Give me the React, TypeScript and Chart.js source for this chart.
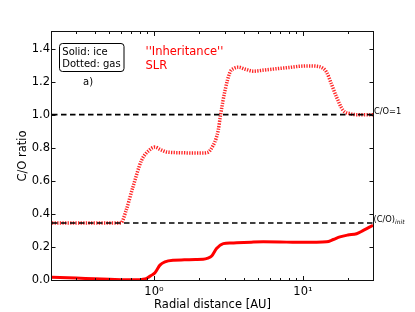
import React, { useEffect, useRef } from "react";
import { Chart, registerables } from "chart.js";

Chart.register(...registerables);

// ---- data ----
const gasX = [0.207, 0.3, 0.4, 0.5, 0.6, 0.65, 0.723, 0.826, 0.93, 1.016, 1.1, 1.217, 1.5, 1.8, 2.1, 2.3, 2.5, 2.61, 2.7, 2.8, 3.0, 3.24, 3.45, 3.68, 4.1, 4.64, 5.5, 6.66, 8, 9.55, 11, 12.36, 13.5, 14.4, 15.5, 16.8, 18.6, 20.7, 23, 26, 29.5];
const gasY = [0.345, 0.345, 0.345, 0.345, 0.345, 0.42, 0.563, 0.724, 0.785, 0.804, 0.79, 0.774, 0.77, 0.768, 0.768, 0.772, 0.815, 0.855, 0.905, 1.0, 1.147, 1.257, 1.28, 1.287, 1.275, 1.263, 1.27, 1.278, 1.285, 1.293, 1.295, 1.293, 1.283, 1.257, 1.187, 1.106, 1.026, 1.006, 1.0, 1.0, 1.0];

const iceX = [0.207, 0.3, 0.4, 0.5, 0.6, 0.7, 0.805, 0.87, 0.916, 0.96, 1.016, 1.097, 1.185, 1.35, 1.6, 1.9, 2.14, 2.3, 2.44, 2.63, 2.92, 3.3, 3.59, 4.5, 5.42, 7, 9.07, 12, 14.4, 16, 17.7, 20, 22.9, 25.4, 28.8, 29.5];
const iceY = [0.017, 0.012, 0.007, 0.004, 0.002, 0.001, 0.002, 0.006, 0.016, 0.028, 0.044, 0.09, 0.11, 0.12, 0.122, 0.124, 0.125, 0.132, 0.145, 0.19, 0.22, 0.224, 0.225, 0.229, 0.231, 0.23, 0.228, 0.229, 0.231, 0.245, 0.261, 0.272, 0.28, 0.3, 0.326, 0.33];

const refLevels = [1.0, 0.345]; // C/O = 1 and (C/O)init
const xRange = [0.207, 29.5];
const yRange = [0, 1.5];
const yTicks = [0, 0.2, 0.4, 0.6, 0.8, 1.0, 1.2, 1.4];
const xMajorTicks = [1, 10];
const xMajorLabels = ["10\u2070", "10\u00b9"];
const xMinorTicks = [0.3, 0.4, 0.5, 0.6, 0.7, 0.8, 0.9, 2, 3, 4, 5, 6, 7, 8, 9, 20];
const legendLines = ["Solid: ice", "Dotted: gas"];
const modelLines = ["''Inheritance''", "SLR"];
const panelLabel = "a)";
const xTitle = "Radial distance [AU]";
const yTitle = "C/O ratio";

const FONT = "'DejaVu Sans', sans-serif";

const overlay = {
  id: "overlay",
  afterDraw(chart: any) {
    const ctx = chart.ctx as CanvasRenderingContext2D;
    const { left, right, top, bottom } = chart.chartArea;
    const xs = chart.scales.x;
    const ys = chart.scales.y;
    ctx.save();
    ctx.strokeStyle = "#111";
    ctx.lineWidth = 1;
    ctx.beginPath();
    for (const v of yTicks) {
      const py = Math.round(ys.getPixelForValue(v)) + 0.5;
      ctx.moveTo(left, py);
      ctx.lineTo(left + 3.5, py);
      ctx.moveTo(right, py);
      ctx.lineTo(right - 3.5, py);
    }
    for (const v of xMajorTicks) {
      const px = Math.round(xs.getPixelForValue(v)) + 0.5;
      ctx.moveTo(px, bottom);
      ctx.lineTo(px, bottom - 4);
      ctx.moveTo(px, top);
      ctx.lineTo(px, top + 4);
    }
    for (const v of xMinorTicks) {
      const px = Math.round(xs.getPixelForValue(v)) + 0.5;
      ctx.moveTo(px, bottom);
      ctx.lineTo(px, bottom - 2);
      ctx.moveTo(px, top);
      ctx.lineTo(px, top + 2);
    }
    ctx.stroke();
    ctx.strokeRect(left - 0.5, top - 0.5, right - left + 1, bottom - top + 1);

    // legend-like box
    ctx.beginPath();
    (ctx as any).roundRect(59.5, 43.5, 64.5, 28, 3);
    ctx.fillStyle = "#fff";
    ctx.fill();
    ctx.strokeStyle = "#000";
    ctx.stroke();
    ctx.fillStyle = "#000";
    ctx.font = `10px ${FONT}`;
    ctx.textAlign = "left";
    ctx.textBaseline = "alphabetic";
    ctx.fillText(legendLines[0], 62.3, 55.3);
    ctx.fillText(legendLines[1], 62.3, 67);
    ctx.fillText(panelLabel, 83, 84.5);

    // model label
    ctx.fillStyle = "#ff0000";
    ctx.font = `11.5px ${FONT}`;
    ctx.fillText(modelLines[0], 145.5, 55);
    ctx.fillText(modelLines[1], 145.5, 69);

    // reference line labels
    ctx.fillStyle = "#000";
    ctx.font = `8.3px ${FONT}`;
    const y1 = ys.getPixelForValue(refLevels[0]);
    ctx.fillText("C/O=1", right + 1, y1 - 0.8);
    const y2 = ys.getPixelForValue(refLevels[1]);
    ctx.fillText("(C/O)", right + 0.5, y2 - 1.2);
    const w = ctx.measureText("(C/O)").width;
    ctx.font = `italic 6px ${FONT}`;
    ctx.fillText("init", right + 0.5 + w, y2 + 0.8);
    ctx.restore();
  },
};

export default function App() {
  const ref = useRef<HTMLCanvasElement | null>(null);
  useEffect(() => {
    document.body.style.margin = "0";
    const canvas = ref.current;
    if (!canvas) return;
    Chart.defaults.font.family = FONT;
    const pts = (xa: number[], ya: number[]) => xa.map((x, i) => ({ x, y: ya[i] }));
    const flat = (v: number) => [
      { x: xRange[0], y: v },
      { x: xRange[1], y: v },
    ];
    const chart = new Chart(canvas, {
      type: "line",
      data: {
        datasets: [
          {
            label: "C/O=1",
            data: flat(refLevels[0]),
            borderColor: "#000",
            borderWidth: 1.6,
            borderDash: [5.5, 3.5],
            pointRadius: 0,
            fill: false,
          },
          {
            label: "(C/O)init",
            data: flat(refLevels[1]),
            borderColor: "#000",
            borderWidth: 1.6,
            borderDash: [5.5, 3.5],
            pointRadius: 0,
            fill: false,
          },
          {
            label: "ice",
            data: pts(iceX, iceY),
            borderColor: "#ff0000",
            borderWidth: 3,
            pointRadius: 0,
            cubicInterpolationMode: "monotone",
            fill: false,
          },
          {
            label: "gas",
            data: pts(gasX, gasY),
            borderColor: "rgba(255,0,0,0.85)",
            borderWidth: 3.5,
            borderDash: [1.3, 1.3],
            borderCapStyle: "butt",
            pointRadius: 0,
            cubicInterpolationMode: "monotone",
            fill: false,
          },
        ],
      },
      options: {
        animation: false,
        responsive: false,
        devicePixelRatio: 1,
        layout: { padding: { left: 0, right: 42, top: 32, bottom: 0 } },
        plugins: { legend: { display: false }, tooltip: { enabled: false } },
        scales: {
          x: {
            type: "logarithmic",
            min: xRange[0],
            max: xRange[1],
            grid: { display: false, drawTicks: false },
            border: { display: false },
            afterBuildTicks: (s: any) => {
              s.ticks = xMajorTicks.map((v) => ({ value: v, major: true }));
            },
            afterFit: (s: any) => {
              s.height = 32;
            },
            ticks: {
              padding: 5.5,
              color: "#000",
              font: { size: 11.5, family: FONT },
              maxRotation: 0,
              autoSkip: false,
              callback: (v: any) => {
                const i = xMajorTicks.indexOf(Number(v));
                return i >= 0 ? xMajorLabels[i] : "";
              },
            },
            title: {
              display: true,
              text: xTitle,
              color: "#000",
              font: { size: 11.5, family: FONT },
              padding: { top: 0, bottom: 0 },
            },
          },
          y: {
            type: "linear",
            min: yRange[0],
            max: yRange[1],
            grid: { display: false, drawTicks: false },
            border: { display: false },
            afterBuildTicks: (s: any) => {
              s.ticks = yTicks.map((v) => ({ value: v }));
            },
            afterFit: (s: any) => {
              s.width = 52;
            },
            ticks: {
              padding: 2,
              color: "#000",
              font: { size: 11.5, family: FONT },
              callback: (v: any) => Number(v).toFixed(1),
            },
            title: {
              display: true,
              text: yTitle,
              color: "#000",
              font: { size: 11.5, family: FONT },
              padding: { top: 16, bottom: 0 },
            },
          },
        },
      },
      plugins: [overlay],
    } as any);
    return () => chart.destroy();
  }, []);
  return <canvas ref={ref} width={415} height={312} style={{ display: "block", width: 415, height: 312 }} />;
}
